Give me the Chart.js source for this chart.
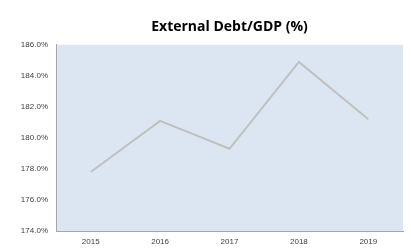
<!DOCTYPE html>
<html><head><meta charset="utf-8">
<script src="https://cdn.jsdelivr.net/npm/chart.js@4/dist/chart.umd.min.js"></script>
<style>html,body{margin:0;padding:0;background:#fff;}#wrap{width:411px;height:250px;}</style>
</head><body><div id="wrap"><canvas id="c" width="411" height="250"></canvas></div>
<script>
const years = ['2015','2016','2017','2018','2019'];
const debtToGdp = [177.8, 181.1, 179.3, 184.9, 181.2];
const yMin = 174, yMax = 186, yStep = 2;

const plotBg = {
  id: 'plotBg',
  beforeDraw(chart) {
    const {ctx, chartArea: a} = chart;
    ctx.save();
    ctx.fillStyle = '#dce6f2';
    ctx.fillRect(a.left, a.top, a.right - a.left, a.bottom - a.top);
    ctx.restore();
  }
};

new Chart(document.getElementById('c'), {
  type: 'line',
  data: { labels: years, datasets: [{ data: debtToGdp, borderColor: '#c0c0c0', borderWidth: 2, pointRadius: 0, tension: 0, fill: false }] },
  options: {
    responsive: false, animation: false, devicePixelRatio: 1,
    layout: { padding: { left: 0, right: 8, top: 0, bottom: 0 } },
    plugins: {
      legend: { display: false }, tooltip: { enabled: false },
      title: { display: true, text: 'External Debt/GDP (%)', fullSize: false, color: '#000',
        font: { family: 'Open Sans', size: 14, weight: 'bold' }, padding: { top: 19, bottom: 9 } }
    },
    scales: {
      x: { offset: true,
        grid: { display: false, drawTicks: false },
        border: { display: true, color: '#a6a6a6', width: 1 },
        ticks: { color: '#404040', font: { family: 'Liberation Sans', size: 8 }, padding: 6, maxRotation: 0 },
        afterFit(s) { s.height = 19; } },
      y: { min: yMin, max: yMax,
        grid: { display: false, drawTicks: false },
        border: { display: true, color: '#a6a6a6', width: 1 },
        ticks: { stepSize: yStep, color: '#404040', font: { family: 'Liberation Sans', size: 8 }, padding: 8,
          callback: v => v.toFixed(1) + '%' },
        afterFit(s) { s.width = 56; } }
    }
  },
  plugins: [plotBg]
});
</script></body></html>
